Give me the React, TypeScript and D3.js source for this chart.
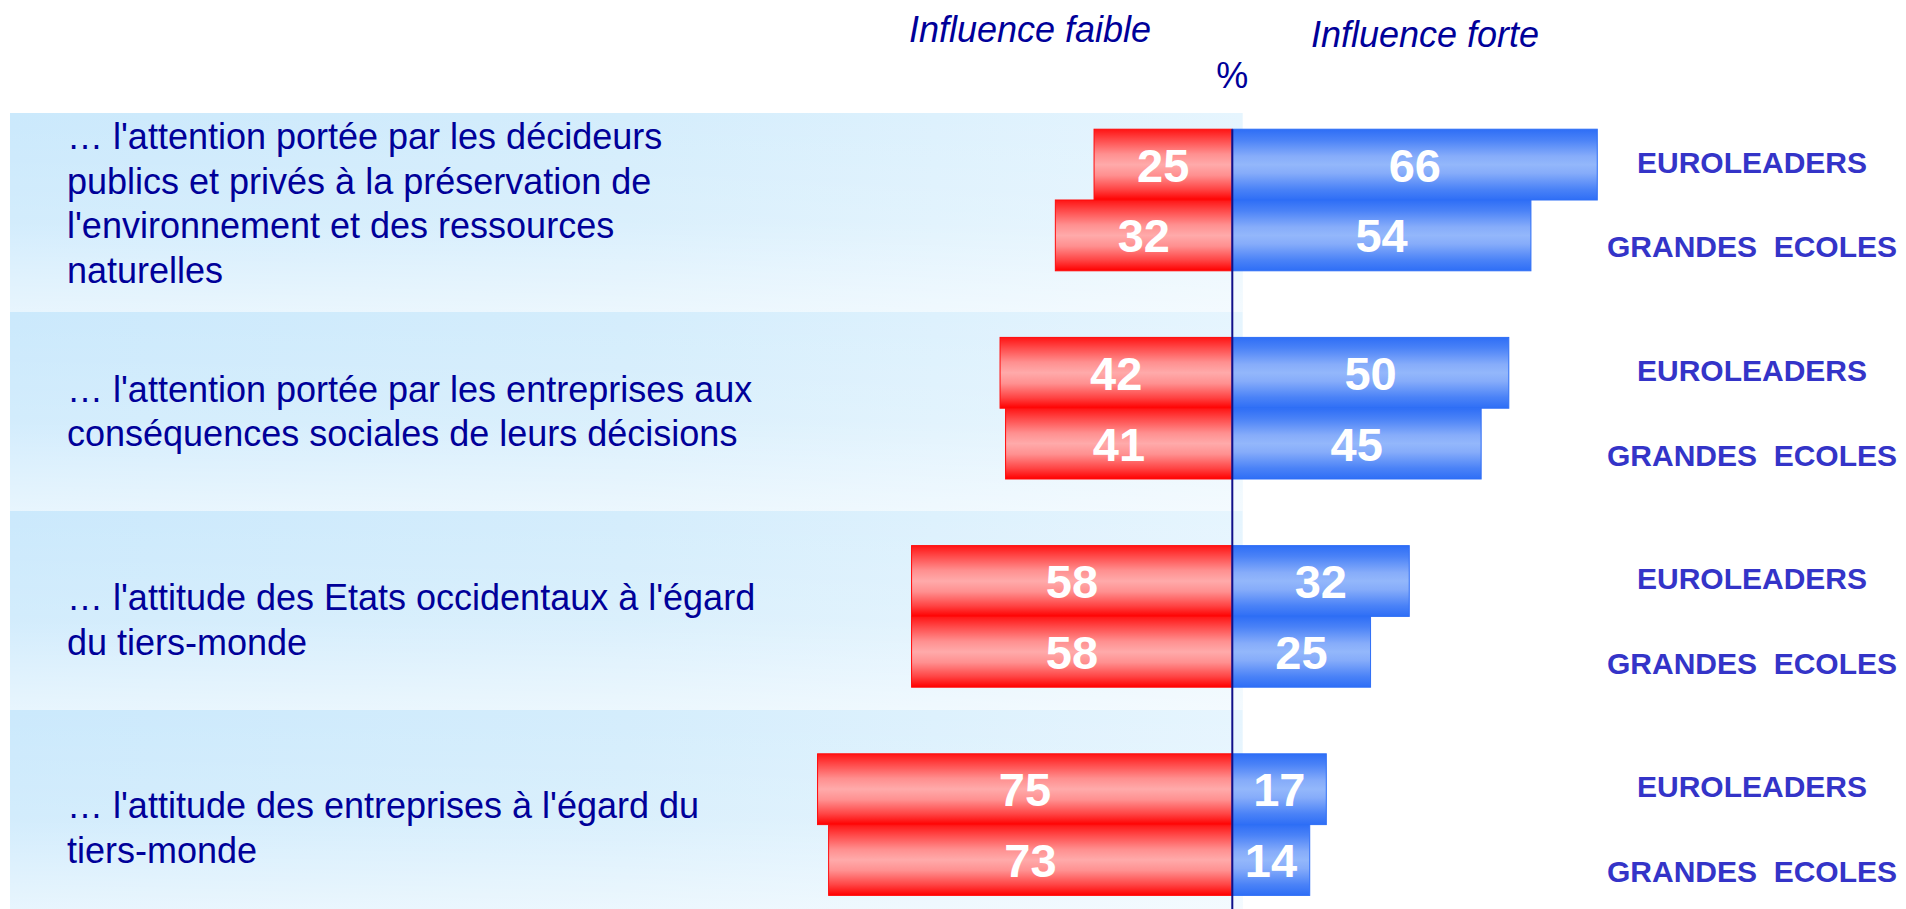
import React from 'react'
import * as d3 from 'd3'

// categories (one entry per row, already broken into lines)
const categories = [
  ["… l'attention portée par les décideurs", 'publics et privés à la préservation de', "l'environnement et des ressources", 'naturelles'],
  ["… l'attention portée par les entreprises aux", 'conséquences sociales de leurs décisions'],
  ["… l'attitude des Etats occidentaux à l'égard", 'du tiers-monde'],
  ["… l'attitude des entreprises à l'égard du", 'tiers-monde'],
]
const series = ['EUROLEADERS', 'GRANDES  ECOLES']
// influence faible (left, red)
const faibleEuro = [25, 42, 58, 75]
const faibleGrandes = [32, 41, 58, 73]
// influence forte (right, blue)
const forteEuro = [66, 50, 32, 17]
const forteGrandes = [54, 45, 25, 14]

const W = 1906
const H = 909
const FONT = "'Liberation Sans', Arial, Helvetica, sans-serif"
const NAVY = '#000099'

export default function App() {
  const ids = categories.map((d, i) => 'c' + i)
  const center = 1232.3
  const unit = 5.53

  const xRight = d3.scaleLinear().domain([0, 100]).range([center, center + 100 * unit])
  const xLeft = d3.scaleLinear().domain([0, 100]).range([center, center - 100 * unit])

  const yCat = d3.scaleBand().domain(ids).range([95.9, 928.7]).paddingInner(0.32).paddingOuter(0.16)
  const ySer = d3.scaleBand().domain(series).range([0, yCat.bandwidth()])
  const rows = d3.scaleBand().domain(ids).range([113, 909])

  const faible = [faibleEuro, faibleGrandes]
  const forte = [forteEuro, forteGrandes]

  const bars: any[] = []
  ids.forEach((id, i) => {
    series.forEach((s, j) => {
      bars.push({ id, i, s, j, left: faible[j][i], right: forte[j][i] })
    })
  })

  const lineH = 44.5

  return (
    <svg width={W} height={H} style={{ position: 'absolute', left: 0, top: 0, background: '#fff' }}>
      <defs>
        <linearGradient id="panelH" x1="0" y1="0" x2="1" y2="0">
          <stop offset="0" stopColor="#cbe9fc" />
          <stop offset="0.5" stopColor="#d4edfc" />
          <stop offset="1" stopColor="#e6f5fe" />
        </linearGradient>
        <linearGradient id="panelV" x1="0" y1="0" x2="0" y2="1">
          <stop offset="0" stopColor="#ffffff" stopOpacity="0" />
          <stop offset="0.55" stopColor="#ffffff" stopOpacity="0.15" />
          <stop offset="1" stopColor="#ffffff" stopOpacity="0.55" />
        </linearGradient>
        <linearGradient id="redG" x1="0" y1="0" x2="0" y2="1">
          <stop offset="0" stopColor="#ff1414" />
          <stop offset="0.15" stopColor="#ff4a4a" />
          <stop offset="0.35" stopColor="#ff8f8f" />
          <stop offset="0.5" stopColor="#ffaaaa" />
          <stop offset="0.65" stopColor="#ff9090" />
          <stop offset="0.85" stopColor="#ff4444" />
          <stop offset="1" stopColor="#ff0000" />
        </linearGradient>
        <linearGradient id="blueG" x1="0" y1="0" x2="0" y2="1">
          <stop offset="0" stopColor="#2e6ef6" />
          <stop offset="0.15" stopColor="#4a82f7" />
          <stop offset="0.38" stopColor="#86acfa" />
          <stop offset="0.5" stopColor="#93b7fb" />
          <stop offset="0.62" stopColor="#86acfa" />
          <stop offset="0.85" stopColor="#4a82f7" />
          <stop offset="1" stopColor="#2e6ef6" />
        </linearGradient>
      </defs>

      {/* fond des lignes */}
      {ids.map((id) => (
        <g key={'row' + id}>
          <rect x={10} y={rows(id)} width={center + 10.4 - 10} height={rows.bandwidth()} fill="url(#panelH)" />
          <rect x={10} y={rows(id)} width={center + 10.4 - 10} height={rows.bandwidth()} fill="url(#panelV)" />
        </g>
      ))}

      {/* titres */}
      <text x={1030} y={42} textAnchor="middle" fontFamily={FONT} fontStyle="italic" fontSize={36} fill={NAVY}>
        Influence faible
      </text>
      <text x={1425} y={47} textAnchor="middle" fontFamily={FONT} fontStyle="italic" fontSize={36} fill={NAVY}>
        Influence forte
      </text>
      <text x={center} y={88} textAnchor="middle" fontFamily={FONT} fontSize={36} fill={NAVY}>
        %
      </text>

      {/* libellés des catégories */}
      {categories.map((lines, i) => {
        const mid = (yCat(ids[i]) as number) + yCat.bandwidth() / 2
        const first = mid - ((lines.length - 1) * lineH) / 2 + 16
        return (
          <text key={'cat' + i} fontFamily={FONT} fontSize={36} fill={NAVY}>
            {lines.map((l, k) => (
              <tspan key={k} x={67} y={first + k * lineH}>
                {l}
              </tspan>
            ))}
          </text>
        )
      })}

      {/* barres */}
      {bars.map((b) => {
        const y = (yCat(b.id) as number) + (ySer(b.s) as number)
        const h = ySer.bandwidth()
        return (
          <g key={'bar' + b.id + b.j}>
            <rect
              x={xLeft(b.left)}
              y={y}
              width={center - xLeft(b.left)}
              height={h}
              fill="url(#redG)"
              stroke="#ff0a0a"
              strokeWidth={1}
            />
            <rect
              x={center}
              y={y}
              width={xRight(b.right) - center}
              height={h}
              fill="url(#blueG)"
              stroke="#2e6ef6"
              strokeWidth={1}
            />
            <text
              x={(xLeft(b.left) + center) / 2}
              y={y + h / 2 + 17}
              textAnchor="middle"
              fontFamily={FONT}
              fontWeight="bold"
              fontSize={47}
              fill="#fff"
            >
              {b.left}
            </text>
            <text
              x={(xRight(b.right) + center) / 2}
              y={y + h / 2 + 17}
              textAnchor="middle"
              fontFamily={FONT}
              fontWeight="bold"
              fontSize={47}
              fill="#fff"
            >
              {b.right}
            </text>
            <text
              x={1752}
              y={y + h / 2 + 8 + b.j * 14}
              textAnchor="middle"
              fontFamily={FONT}
              fontWeight="bold"
              fontSize={30}
              fill="#3434c8"
              style={{ whiteSpace: 'pre' }}
            >
              {b.s}
            </text>
          </g>
        )
      })}

      {/* axe central */}
      <line x1={center} x2={center} y1={yCat(ids[0])} y2={H} stroke="#10108a" strokeWidth={2} />
    </svg>
  )
}
